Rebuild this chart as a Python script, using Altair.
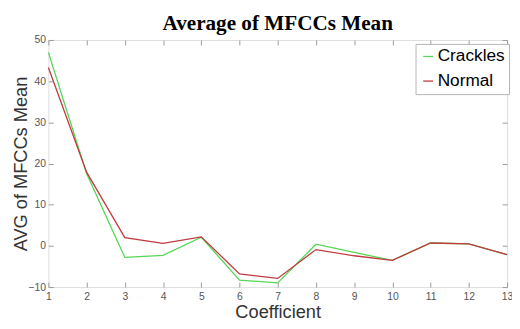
import altair as alt
import pandas as pd

coef = list(range(1, 14))
crackles = [47.0, 17.6, -2.8, -2.3, 2.1, -8.3, -9.0, 0.4, -1.6, -3.5, 0.7, 0.5, -2.1]
normal = [43.3, 17.9, 2.0, 0.6, 2.2, -6.8, -7.9, -0.9, -2.4, -3.5, 0.7, 0.5, -2.1]
series_names = ["Crackles", "Normal"]
series_colors = ["#55d655", "#c0393f"]
y_ticks = [-10, 0, 10, 20, 30, 40, 50]

rows = []
for name, vals in zip(series_names, [crackles, normal]):
    for c, v in zip(coef, vals):
        rows.append({"Coefficient": c, "Value": v, "Series": name})
df = pd.DataFrame(rows)

tick_col = "#9a9a9a"
lab_col = "#555555"

x_main = alt.X(
    "Coefficient:Q",
    scale=alt.Scale(domain=[1, 13], nice=False, zero=False),
    axis=alt.Axis(
        orient="bottom", values=coef, offset=-5, tickSize=5, tickColor=tick_col,
        domain=False, grid=False, labelPadding=5, labelFontSize=10.5,
        labelColor=lab_col, labelFont="Liberation Sans", labelFlush=False,
        labelOverlap=False, title="Coefficient", titleFont="Liberation Sans",
        titleFontSize=18.5, titleFontWeight="normal", titleColor="#333333",
        titleBaseline="alphabetic", titleAnchor="middle", titleY=36,
    ),
)
y_main = alt.Y(
    "Value:Q",
    scale=alt.Scale(domain=[-10, 50], nice=False, zero=False),
    axis=alt.Axis(
        orient="left", values=y_ticks, offset=-5, tickSize=5, tickColor=tick_col,
        domain=False, grid=False, labelPadding=3, labelFontSize=10.5,
        labelColor=lab_col, labelFont="Liberation Sans", labelFlush=False,
        labelOverlap=False, title="AVG of MFCCs Mean", titleFont="Liberation Sans",
        titleFontSize=18.5, titleFontWeight="normal", titleColor="#333333",
        titleBaseline="alphabetic", titleAngle=270, titleAlign="center",
        titleX=-27, titleY=125.5,
    ),
)

lines = alt.Chart(df).mark_line(strokeWidth=1.3).encode(
    x=x_main,
    y=y_main,
    color=alt.Color(
        "Series:N",
        scale=alt.Scale(domain=series_names, range=series_colors),
        legend=alt.Legend(
            title=None, orient="none", legendX=373, legendY=4,
            symbolType="stroke", symbolSize=100, symbolStrokeWidth=1.3,
            labelFont="Liberation Sans", labelFontSize=17.5, labelColor="black",
            labelOffset=1, rowPadding=6, padding=4, strokeColor="#b5b5b5",
            fillColor="white", labelLimit=300,
        ),
    ),
)

mirror = alt.Chart(df).mark_line(strokeOpacity=0).encode(
    x=alt.X(
        "Coefficient:Q",
        axis=alt.Axis(orient="top", values=coef, offset=-5, tickSize=5,
                      tickColor=tick_col, domain=False, grid=False,
                      labels=False, title=None),
    ),
    y=alt.Y(
        "Value:Q",
        axis=alt.Axis(orient="right", values=y_ticks, offset=-5, tickSize=5,
                      tickColor=tick_col, domain=False, grid=False,
                      labels=False, title=None),
    ),
    detail="Series:N",
)

chart = alt.layer(lines, mirror).properties(
    width=466,
    height=251,
    autosize=alt.AutoSizeParams(type="none"),
    padding={"left": 41, "top": 30, "right": 5, "bottom": 32},
    title=alt.TitleParams(
        "Average of MFCCs Mean", font="Liberation Serif", fontSize=21.5,
        fontWeight="bold", color="black", anchor="middle", frame="group",
        baseline="alphabetic", offset=8, dy=24,
    ),
).configure_view(stroke="#b0b0b0", strokeWidth=1).configure(background="white")

chart.save("out.html", embed_options={"renderer": "svg", "actions": False})
